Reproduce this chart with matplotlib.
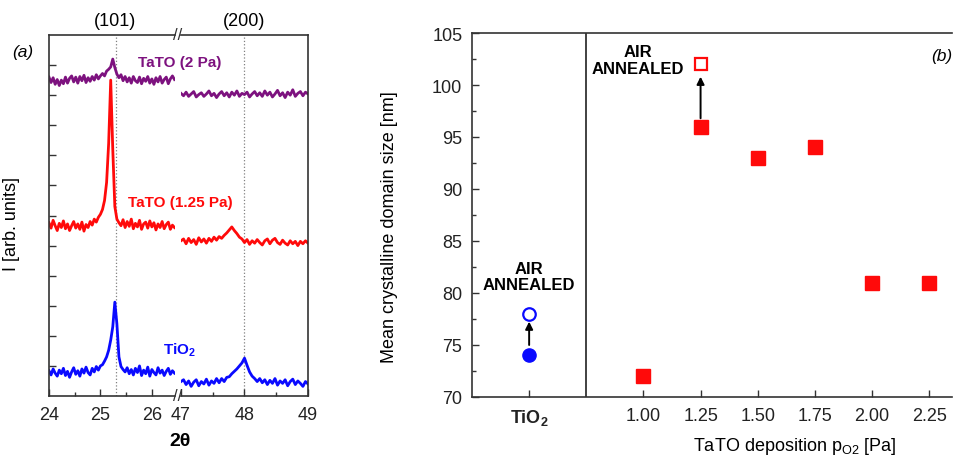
import matplotlib.pyplot as plt
import numpy as np
from matplotlib.ticker import AutoMinorLocator

plt.rcParams['font.family'] = ['Liberation Sans', 'DejaVu Sans']
plt.rcParams['mathtext.fontset'] = 'custom'
plt.rcParams['mathtext.rm'] = 'Liberation Sans'
plt.rcParams['mathtext.bf'] = 'Liberation Sans:bold'
plt.rcParams['mathtext.it'] = 'Liberation Sans:italic'

# ---- (a) XRD scans, two 2theta windows, step 0.04 deg ----
step = 0.04
tt_low = np.round(np.arange(24.0, 26.44 + step / 2, step), 2)
tt_high = np.round(np.arange(47.0, 49.0 + step / 2, step), 2)

tio2_low = [0.84, 0.70, 0.90, 0.76, 0.66, 0.86, 0.74, 0.92, 0.68, 0.82,
            0.62, 0.80, 0.94, 0.72, 0.84, 0.66, 0.90, 0.76, 0.96, 0.78,
            0.70, 0.92, 0.80, 0.98, 0.86, 1.00, 1.04, 1.16, 1.30, 1.52,
            1.86, 2.30, 3.12, 2.40, 1.30, 0.98, 0.88, 0.80, 0.94, 0.74,
            0.88, 0.70, 0.92, 0.78, 1.00, 0.68, 0.86, 0.74, 0.96, 0.66,
            0.88, 0.78, 0.70, 0.94, 0.76, 0.86, 0.68, 0.82, 0.92, 0.72,
            0.84, 0.76]
tio2_high = [0.48, 0.54, 0.38, 0.50, 0.32, 0.46, 0.54, 0.34, 0.48, 0.40,
             0.56, 0.36, 0.50, 0.42, 0.58, 0.44, 0.58, 0.48, 0.62, 0.64,
             0.74, 0.82, 0.90, 1.00, 1.10, 1.26, 1.02, 0.80, 0.66, 0.58,
             0.48, 0.58, 0.44, 0.54, 0.38, 0.52, 0.42, 0.58, 0.36, 0.50,
             0.42, 0.54, 0.34, 0.48, 0.56, 0.38, 0.50, 0.42, 0.32, 0.48,
             0.40]
tato125_low = [5.76, 5.58, 5.84, 5.66, 5.50, 5.74, 5.60, 5.82, 5.56, 5.72,
               5.50, 5.66, 5.80, 5.58, 5.72, 5.54, 5.78, 5.48, 5.70, 5.60,
               5.80, 5.68, 5.88, 5.78, 5.94, 6.04, 6.20, 6.50, 7.10, 8.40,
               10.50, 8.20, 6.30, 5.88, 5.76, 5.66, 5.86, 5.60, 5.80, 5.64,
               5.88, 5.56, 5.74, 5.62, 5.84, 5.54, 5.72, 5.78, 5.58, 5.82,
               5.62, 5.76, 5.52, 5.72, 5.60, 5.80, 5.56, 5.70, 5.78, 5.54,
               5.68, 5.60]
tato125_high = [5.16, 5.22, 5.06, 5.24, 5.10, 5.20, 5.04, 5.26, 5.12, 5.22,
                5.08, 5.24, 5.14, 5.28, 5.18, 5.30, 5.24, 5.34, 5.42, 5.52,
                5.62, 5.50, 5.40, 5.28, 5.22, 5.10, 5.20, 5.04, 5.16, 5.08,
                5.20, 5.10, 5.02, 5.16, 5.22, 5.06, 5.18, 5.24, 5.10, 5.04,
                5.18, 5.08, 5.02, 5.16, 5.06, 5.14, 5.00, 5.14, 5.06, 5.16,
                5.08]
tato2_low = [10.60, 10.42, 10.58, 10.36, 10.52, 10.32, 10.50, 10.38, 10.60, 10.40,
             10.56, 10.64, 10.44, 10.60, 10.40, 10.62, 10.48, 10.66, 10.42, 10.58,
             10.46, 10.62, 10.50, 10.68, 10.54, 10.64, 10.72, 10.64, 10.80, 10.86,
             10.94, 11.20, 10.92, 10.70, 10.58, 10.68, 10.48, 10.62, 10.44, 10.58,
             10.40, 10.62, 10.48, 10.42, 10.60, 10.38, 10.56, 10.46, 10.62, 10.40,
             10.54, 10.36, 10.58, 10.44, 10.62, 10.40, 10.52, 10.60, 10.38, 10.54,
             10.64, 10.52]
tato2_high = [10.06, 9.98, 10.10, 9.96, 10.04, 10.12, 9.94, 10.02, 10.08, 9.96,
              10.04, 10.14, 9.98, 10.06, 9.92, 10.04, 10.12, 9.98, 10.08, 9.94,
              10.10, 10.00, 10.14, 9.96, 10.06, 10.02, 10.10, 9.94, 10.04, 10.12,
              9.98, 10.08, 9.96, 10.14, 10.00, 10.10, 9.94, 10.04, 10.16, 9.98,
              10.08, 9.92, 10.10, 10.00, 10.18, 9.96, 10.06, 10.12, 9.98, 10.10,
              10.04]
peak_101 = 25.3
peak_200 = 48.0

# ---- (b) crystalline domain size ----
tio2_pos = 0.5
tio2_size = 74
tio2_size_ann = 78
p_o2 = [1.00, 1.25, 1.50, 1.75, 2.00, 2.25]
tato_size = [72, 96, 93, 94, 81, 81]
p_o2_ann = 1.25
tato_size_ann = 102

purple = '#7d127f'
red = '#ff0a0a'
blue = '#0a0aff'
spine_c = '#333333'

W, H = 954, 460
fig = plt.figure(figsize=(W / 100, H / 100), dpi=100)


def fx(px):
    return px / W


def fy(py):
    return 1 - py / H


ax1 = fig.add_axes([fx(49), fy(397), fx(126), (397 - 36) / H])
ax2 = fig.add_axes([fx(181), fy(397), fx(127), (397 - 36) / H])

for ax, x, series in [(ax1, tt_low, (tio2_low, tato125_low, tato2_low)),
                      (ax2, tt_high, (tio2_high, tato125_high, tato2_high))]:
    for y, c in zip(series, (blue, red, purple)):
        ax.plot(x, y, color=c, lw=2.0)
    ax.set_ylim(0, 12)
    for s in ax.spines.values():
        s.set_color(spine_c)
        s.set_linewidth(1.2)
    ax.tick_params(direction='in', labelsize=13, length=5, width=1, pad=7,
                   colors=spine_c, labelcolor='#222222')
    ax.tick_params(which='minor', direction='in', length=3, width=1, colors=spine_c)

ax1.set_xlim(24, 26.45)
ax1.set_xticks([24, 25, 26])
ax1.set_xticks([24.5, 25.5], minor=True)
ax1.set_yticks(range(1, 12))
ax1.set_yticklabels([])
ax1.spines['right'].set_visible(False)
ax1.axvline(peak_101, color='gray', ls=':', lw=0.9, zorder=0)

ax2.set_xlim(47, 49)
ax2.set_xticks([47, 48, 49])
ax2.set_xticks([47.5, 48.5], minor=True)
ax2.set_yticks([])
ax2.spines['left'].set_visible(False)
ax2.axvline(peak_200, color='gray', ls=':', lw=0.9, zorder=0)

ax1.set_ylabel('I [arb. units]', fontsize=13)
ax1.yaxis.set_label_coords(-0.23, 0.48)

fig.text(fx(180), fy(442), '2θ', ha='center', va='center', fontsize=14, fontweight='bold')
fig.text(fx(23), fy(52), '(a)', ha='center', va='center', fontsize=12.5, style='italic')
fig.text(fx(115), fy(22), '(101)', ha='center', va='center', fontsize=13)
fig.text(fx(244), fy(22), '(200)', ha='center', va='center', fontsize=13)
for py in (36, 397):
    fig.text(fx(178), fy(py), '//', ha='center', va='center', fontsize=12, color=spine_c)
fig.text(fx(180), fy(63), 'TaTO (2 Pa)', ha='center', va='center', fontsize=11,
         fontweight='bold', color=purple)
fig.text(fx(180), fy(203), 'TaTO (1.25 Pa)', ha='center', va='center', fontsize=11,
         fontweight='bold', color=red)
fig.text(fx(180), fy(350), r'$\mathbf{TiO_2}$', ha='center', va='center', fontsize=11,
         color=blue)

# ---- panel (b) ----
ax3 = fig.add_axes([fx(472), fy(398), fx(952 - 472), (398 - 34) / H])
ax3.plot(tio2_pos, tio2_size, 'o', color=blue, ms=9.5)
ax3.plot(tio2_pos, tio2_size_ann, 'o', mfc='white', mec=blue, mew=1.6, ms=9)
ax3.plot(p_o2, tato_size, 's', color=red, ms=9.5)
ax3.plot(p_o2_ann, tato_size_ann, 's', mfc='white', mec=red, mew=1.6, ms=9)

arrow = dict(arrowstyle='-|>', color='black', lw=1.4, mutation_scale=11,
             shrinkA=0, shrinkB=0)
ax3.annotate('', xy=(tio2_pos, tio2_size_ann - 0.75), xytext=(tio2_pos, tio2_size + 1.0),
             arrowprops=arrow)
ax3.annotate('', xy=(p_o2_ann, tato_size_ann - 1.2), xytext=(p_o2_ann, tato_size[1] + 0.8),
             arrowprops=arrow)

ax3.axvline(0.75, color=spine_c, lw=1.3)
ax3.set_xlim(0.25, 2.35)
ax3.set_ylim(70, 105)
ax3.set_yticks(range(70, 106, 5))
ax3.yaxis.set_minor_locator(AutoMinorLocator(2))
ax3.set_xticks([tio2_pos] + p_o2)
ax3.set_xticklabels([r'$\mathbf{TiO_2}$'] + ['%.2f' % p for p in p_o2])
ax3.tick_params(direction='in', labelsize=13, length=5, width=1, colors=spine_c,
                labelcolor='#222222', pad=7)
ax3.tick_params(which='minor', direction='in', length=3, width=1, colors=spine_c)
for s in ax3.spines.values():
    s.set_color(spine_c)
    s.set_linewidth(1.2)
ax3.spines['right'].set_visible(False)

ax3.text(tio2_pos, 81.6, 'AIR\nANNEALED', ha='center', va='center', fontsize=12,
         fontweight='bold', linespacing=1.1)
ax3.text(0.974, 102.4, 'AIR\nANNEALED', ha='center', va='center', fontsize=12,
         fontweight='bold', linespacing=1.1)
ax3.text(2.303, 102.8, '(b)', ha='center', va='center', fontsize=12.5, style='italic')

ax3.set_ylabel('Mean crystalline domain size [nm]', fontsize=13)
ax3.yaxis.set_label_coords(-0.155, 0.47)
ax3.set_xlabel(r'TaTO deposition p$_{\mathrm{O2}}$ [Pa]', fontsize=13)
ax3.xaxis.set_label_coords(0.672, -0.105)

fig.savefig('out.png', dpi=100)
